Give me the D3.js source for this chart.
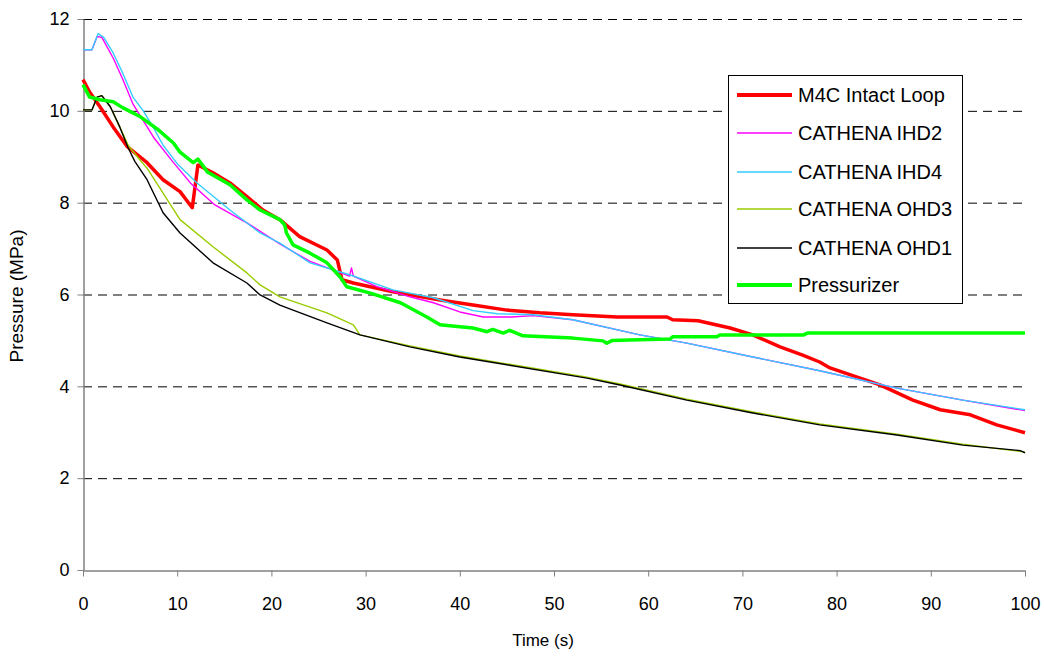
<!DOCTYPE html>
<html><head><meta charset="utf-8">
<script src="https://cdn.jsdelivr.net/npm/d3@7"></script>
<style>body{margin:0;background:#fff}svg{display:block;font-family:"Liberation Sans",Arial,sans-serif}</style>
</head><body><svg id="c" width="1044" height="659"></svg>
<script>
const xTicks=[0,10,20,30,40,50,60,70,80,90,100];
const yTicks=[0,2,4,6,8,10,12];
const seriesNames=["M4C Intact Loop","CATHENA IHD2","CATHENA IHD4","CATHENA OHD3","CATHENA OHD1","Pressurizer"];
const seriesColors=["#ff0000","#ff00ff","#33ccff","#99cc00","#000000","#00ff00"];
const seriesWidths=[3.5,1.4,1.4,1.4,1.4,3.5];
const m4c=[[0,10.68],[0.7,10.41],[1.8,10.09],[3.2,9.65],[4.7,9.22],[6.8,8.87],[8.5,8.5],[10.3,8.24],[11.6,7.89],[12.2,8.82],[13.8,8.65],[15.6,8.43],[17.4,8.13],[19.1,7.84],[20.9,7.63],[23,7.26],[25.9,6.97],[27,6.75],[27.5,6.32],[28.7,6.25],[32.9,6.06],[37.9,5.88],[41.4,5.77],[45,5.66],[48.5,5.6],[52,5.56],[56.7,5.51],[62,5.51],[62.6,5.45],[65.3,5.43],[68.7,5.27],[71.1,5.12],[74,4.86],[76.4,4.68],[78.2,4.53],[79.3,4.4],[84.6,4.03],[88.1,3.7],[91,3.49],[94.2,3.38],[97,3.16],[100,2.99]];
const ihd2=[[0,11.33],[0.95,11.33],[1.5,11.62],[2.0,11.6],[3.2,11.15],[4.2,10.7],[5.3,10.15],[6.2,9.85],[7.5,9.42],[9.5,8.9],[11.4,8.43],[14,7.95],[17.4,7.56],[20.9,7.1],[24.1,6.72],[28.3,6.4],[28.5,6.58],[28.7,6.4],[31.2,6.17],[34.7,5.95],[37.2,5.82],[40,5.62],[42.5,5.51],[45.5,5.51],[47.8,5.54],[52,5.45],[59.1,5.12],[64.1,4.94],[71.1,4.64],[78.2,4.34],[86.4,3.96],[93.4,3.7],[100,3.47]];
const ihd4=[[0,11.33],[0.95,11.33],[1.6,11.68],[2.2,11.6],[3.2,11.26],[4.2,10.83],[5.3,10.3],[6.4,10.0],[7.6,9.59],[8.5,9.25],[10,8.85],[12.1,8.43],[15.6,7.84],[18.8,7.34],[20.9,7.12],[24.1,6.69],[28.3,6.43],[32.9,6.1],[37.2,5.93],[41.4,5.65],[44,5.58],[47.8,5.56],[52,5.45],[59.1,5.12],[64.1,4.94],[71.1,4.64],[78.2,4.34],[86.4,3.96],[93.4,3.7],[100,3.49]];
const ohd3=[[0,10.02],[0.95,10.02],[1.5,10.3],[2.0,10.33],[2.9,10.09],[3.9,9.65],[4.8,9.25],[6.05,8.93],[6.8,8.75],[8.5,8.21],[10.3,7.63],[13.8,7.04],[17.4,6.47],[18.8,6.21],[20.9,5.95],[22.3,5.85],[25.9,5.6],[28.7,5.34],[29.4,5.12],[34.7,4.88],[40,4.66],[45,4.49],[53.5,4.2],[57,4.05],[64.1,3.72],[71.1,3.44],[78.2,3.18],[86.4,2.96],[93.4,2.74],[100,2.57]];
const ohd1=[[0,10.02],[0.95,10.02],[1.5,10.3],[2.0,10.33],[2.9,10.09],[3.9,9.65],[4.8,9.19],[5.5,8.9],[6.8,8.5],[8.5,7.78],[10.3,7.34],[13.8,6.69],[17.4,6.25],[18.8,5.99],[20.9,5.77],[22.3,5.66],[25.9,5.38],[29.4,5.12],[34.7,4.86],[40,4.64],[45,4.47],[53.5,4.18],[57,4.03],[64.1,3.7],[71.1,3.42],[78.2,3.16],[86.4,2.94],[93.4,2.72],[99.5,2.6],[100,2.55]];
const pressurizer=[[0,10.57],[0.7,10.3],[1.8,10.24],[3.2,10.2],[4.2,10.07],[6.1,9.87],[7.9,9.6],[9.6,9.3],[10.3,9.1],[11.7,8.87],[12.2,8.95],[13.2,8.67],[15.6,8.39],[17.4,8.06],[18.8,7.84],[20.9,7.63],[21.4,7.52],[21.6,7.34],[22.3,7.08],[24.1,6.9],[25.9,6.69],[27.3,6.38],[28,6.17],[30.5,6.03],[33.7,5.82],[36.5,5.51],[37.9,5.34],[40,5.3],[41.4,5.27],[42.9,5.19],[43.5,5.24],[44.6,5.16],[45.3,5.22],[46.7,5.1],[52,5.05],[55.2,4.99],[55.6,4.94],[56.2,5.0],[58,5.01],[62.3,5.03],[62.6,5.08],[67.3,5.08],[67.6,5.12],[76.5,5.12],[76.9,5.16],[100,5.16]];
const allSeries=[m4c,ihd2,ihd4,ohd3,ohd1,pressurizer];

const svg=d3.select("#c");
const L=83,R=1025,T=19,B=570;
const x=d3.scaleLinear().domain([0,100]).range([L,R]);
const y=d3.scaleLinear().domain([0,12]).range([B,T]);

svg.append("g").selectAll("line").data(yTicks.filter(v=>v>0)).join("line")
 .attr("x1",L).attr("x2",R).attr("y1",d=>y(d)+0.5).attr("y2",d=>y(d)+0.5)
 .attr("stroke","#000").attr("stroke-width",1).attr("stroke-dasharray","9,6");

const xa=svg.append("g").attr("transform",`translate(0,${B+0.5})`)
 .call(d3.axisBottom(x).tickValues(xTicks).tickSize(6).tickPadding(21).tickSizeOuter(0));
const ya=svg.append("g").attr("transform",`translate(${L+0.5},0)`)
 .call(d3.axisLeft(y).tickValues(yTicks).tickSize(6).tickPadding(8).tickSizeOuter(0));
[xa,ya].forEach(a=>{a.select(".domain").attr("stroke","#808080").attr("stroke-width",1.5);
 a.selectAll(".tick line").attr("stroke","#808080");
 a.selectAll(".tick text").attr("font-size",18).attr("fill","#000").attr("font-family","Liberation Sans, Arial, sans-serif");});

const line=d3.line().x(d=>x(d[0])).y(d=>y(d[1]));
allSeries.forEach((s,i)=>{
 svg.append("path").datum(s).attr("d",line).attr("fill","none")
  .attr("stroke",seriesColors[i]).attr("stroke-width",seriesWidths[i]).attr("stroke-linejoin","round");
});

svg.append("text").attr("x",543).attr("y",646).attr("text-anchor","middle").attr("font-size",17).text("Time (s)");
svg.append("text").attr("transform","translate(23,296) rotate(-90)").attr("text-anchor","middle").attr("font-size",19).text("Pressure (MPa)");

const lg=svg.append("g");
lg.append("rect").attr("x",728.5).attr("y",75.5).attr("width",234).attr("height",228).attr("fill","#fff").attr("stroke","#000").attr("stroke-width",1);
const ly=[95,133,172,209,248,285];
seriesNames.forEach((n,i)=>{
 lg.append("line").attr("x1",737).attr("x2",792).attr("y1",ly[i]).attr("y2",ly[i])
  .attr("stroke",seriesColors[i]).attr("stroke-width",seriesWidths[i]+0.3);
 lg.append("text").attr("x",798).attr("y",ly[i]+7).attr("font-size",20).text(n);
});
</script></body></html>
